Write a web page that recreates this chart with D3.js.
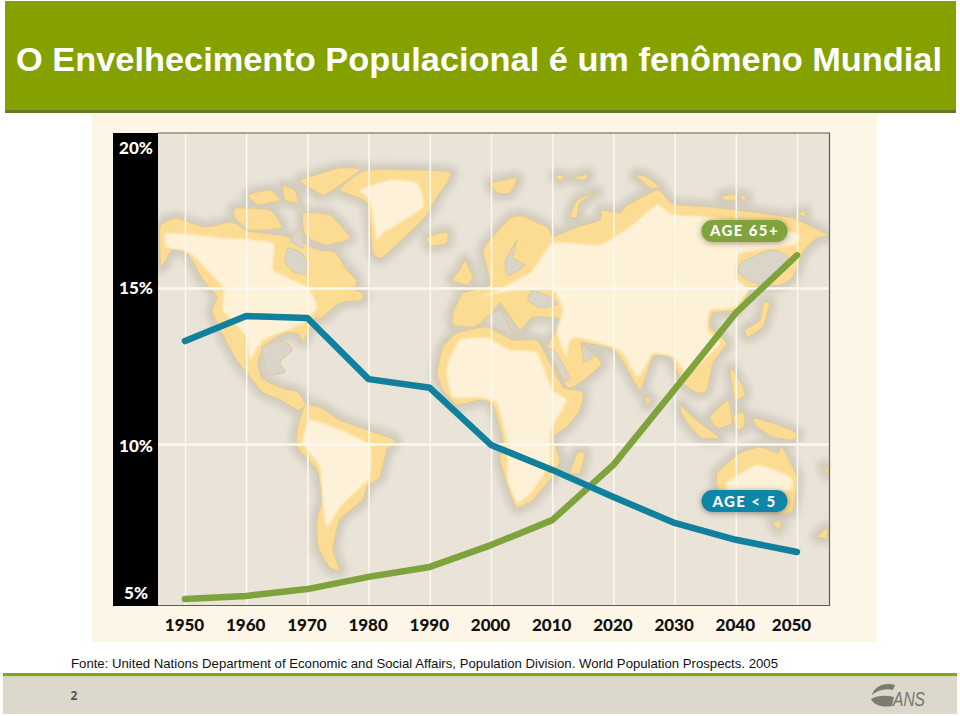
<!DOCTYPE html>
<html lang="pt">
<head>
<meta charset="utf-8">
<script src="https://cdn.jsdelivr.net/npm/d3@7"></script>
<style>
html,body{margin:0;padding:0;background:#fff}
svg{display:block}
</style>
</head>
<body>
<svg id="c" width="960" height="716"></svg>
<script>
// ---- data ----
const years = [1950,1960,1970,1980,1990,2000,2010,2020,2030,2040,2050];
const age65plus = [5.03,5.13,5.35,5.74,6.06,6.76,7.56,9.33,11.75,14.2,16.05];
const ageUnder5 = [13.3,14.1,14.04,12.08,11.8,9.97,9.17,8.3,7.47,6.93,6.54];
const percentTicks = [5,10,15,20];
const tagNames = ["AGE 65+","AGE < 5"];
const tagLevels = [16.83,8.17];
const titleText = "O Envelhecimento Populacional é um fenômeno Mundial";
const sourceText = "Fonte: United Nations Department of Economic and Social Affairs, Population Division. World Population Prospects. 2005";

// ---- decorative backdrop map (page pixels, not data) ----
const land = [
 [[160,226],[176,218],[205,227],[232,222],[248,231],[280,235],[298,240],[318,250],[335,252],[347,270],[357,280],[355,290],[363,293],[362,300],[340,303],[322,318],[315,318],[308,332],[303,342],[298,334],[285,333],[265,345],[258,362],[262,378],[282,388],[298,392],[306,405],[298,410],[280,400],[262,392],[250,377],[238,362],[228,345],[212,312],[217,297],[203,280],[187,253],[172,250],[161,267]],
 [[305,405],[322,408],[340,420],[362,428],[395,440],[387,450],[380,477],[367,487],[363,500],[340,520],[333,550],[340,570],[330,568],[318,547],[317,520],[322,500],[317,470],[297,447],[297,430]],
 [[437,373],[443,347],[457,333],[487,327],[513,340],[537,340],[547,357],[563,387],[583,392],[580,410],[567,427],[553,437],[560,460],[552,477],[533,500],[517,508],[510,493],[500,460],[503,440],[493,405],[480,400],[457,405],[443,390]],
 [[453,313],[463,293],[490,285],[483,253],[487,243],[510,218],[523,216],[548,228],[553,237],[577,227],[600,220],[602,210],[620,213],[627,205],[658,190],[673,204],[710,207],[753,212],[793,218],[828,235],[817,238],[803,252],[793,277],[780,285],[753,287],[737,310],[713,313],[710,327],[727,343],[713,363],[707,390],[697,393],[683,383],[670,357],[653,357],[640,390],[620,357],[610,348],[580,343],[602,363],[580,383],[567,387],[547,347],[563,320],[533,317],[520,330],[500,303],[490,317],[473,327],[453,325]],
 [[340,190],[367,170],[450,172],[437,197],[423,220],[383,257],[373,253],[367,203]],
 [[427,237],[447,232],[447,243],[430,246]],
 [[452,280],[460,270],[465,260],[473,277],[467,285]],
 [[300,180],[340,168],[360,170],[325,195],[310,188]],
 [[303,213],[330,215],[350,238],[325,245],[305,235]],
 [[235,208],[270,210],[282,228],[250,230],[235,218]],
 [[248,195],[270,190],[280,200],[258,205]],
 [[283,186],[295,190],[298,203],[285,200]],
 [[577,453],[585,453],[580,473],[570,473]],
 [[490,183],[517,178],[510,193],[498,193]],
 [[570,217],[577,200],[597,192],[580,203],[577,217]],
 [[555,175],[565,176],[560,181]],[[573,178],[588,174],[585,180]],
 [[635,175],[645,176],[660,187],[650,188]],
 [[722,196],[735,194],[737,200],[724,200]],[[740,195],[747,197],[744,201]],
 [[770,303],[763,327],[748,337],[745,330],[760,320],[763,303]],
 [[710,417],[728,400],[732,423],[717,428]],
 [[680,405],[700,423],[720,438],[700,437],[683,417]],
 [[733,417],[743,412],[745,425],[738,430]],
 [[730,370],[735,400],[745,395],[742,385],[733,370]],
 [[753,418],[773,423],[797,433],[793,440],[773,437],[757,427]],
 [[717,473],[740,453],[760,447],[778,453],[782,447],[797,477],[793,510],[783,514],[760,508],[720,492]],
 [[773,522],[782,522],[778,530]],
 [[817,537],[827,528],[827,538]],
 [[823,466],[829,470],[827,474]],
 [[645,396],[651,400],[647,405]],
 [[795,215],[805,211],[805,216]]
];
const seas = [
 [[288,248],[300,252],[307,262],[306,274],[294,272],[285,262]],
 [[262,347],[284,341],[292,350],[280,362],[285,372],[268,374]],
 [[742,262],[770,250],[788,256],[778,272],[762,284],[748,280],[738,272]],
 [[532,290],[548,296],[558,304],[540,308],[528,300]],
 [[505,262],[517,240],[513,258],[525,265],[508,276]],
 [[548,350],[556,352],[570,378],[564,380]],
 [[582,345],[594,355],[584,362]],
 [[300,228],[303,248],[290,240]],
 [[484,320],[500,310],[512,332],[520,338],[490,325]]
];
const inland = [
 [[167,233],[223,238],[273,243],[273,270],[307,287],[317,307],[303,323],[263,340],[250,360],[247,337],[223,310],[223,287],[190,253],[167,247]],
 [[360,190],[390,180],[417,183],[423,207],[383,233],[377,240],[370,200]],
 [[310,420],[340,430],[370,445],[370,477],[357,490],[340,507],[327,527],[323,503],[320,467],[303,443]],
 [[460,340],[487,338],[510,350],[537,353],[552,390],[567,400],[552,427],[550,437],[550,463],[533,490],[518,503],[508,480],[507,440],[497,403],[480,397],[453,397],[447,375],[448,363]],
 [[477,300],[530,273],[553,243],[600,245],[630,227],[657,205],[673,215],[707,217],[797,233],[793,245],[740,253],[735,277],[748,290],[733,308],[710,310],[707,330],[720,343],[700,363],[687,373],[673,357],[653,353],[638,377],[620,350],[580,338],[570,340],[567,357],[577,377],[563,350],[557,330],[563,310],[553,290],[520,290],[497,293]],
 [[727,483],[757,465],[790,477],[790,490],[730,495]]
];

// ---- drawing ----
const svg = d3.select("#c");
const defs = svg.append("defs");
defs.append("filter").attr("id","b5").append("feGaussianBlur").attr("stdDeviation",3);
defs.append("filter").attr("id","b1").append("feGaussianBlur").attr("stdDeviation",1.3);
defs.append("filter").attr("id","b0").append("feGaussianBlur").attr("stdDeviation",0.5);
const shadow = defs.append("filter").attr("id","pill").attr("x","-20%").attr("y","-50%").attr("width","140%").attr("height","200%");
shadow.append("feDropShadow").attr("dx",0).attr("dy",1).attr("stdDeviation",3).attr("flood-color","#5a4a30").attr("flood-opacity",.55);
defs.append("clipPath").attr("id","plot").append("rect").attr("x",158).attr("y",133).attr("width",671).attr("height",472);

// header
svg.append("rect").attr("x",5).attr("y",1).attr("width",951).attr("height",110).attr("fill","#85a100");
svg.append("rect").attr("x",5).attr("y",110).attr("width",951).attr("height",3).attr("fill","#5f7d2a");
svg.append("text").attr("x",16).attr("y",71).attr("fill","#fff")
  .attr("font-family","'Liberation Sans',Arial,sans-serif").attr("font-weight",700).attr("font-size",33.5)
  .attr("textLength",926).attr("lengthAdjust","spacingAndGlyphs").text(titleText);

// chart panel
svg.append("rect").attr("x",92).attr("y",114).attr("width",785).attr("height",528).attr("fill","#fdf6e7");
svg.append("rect").attr("x",158).attr("y",133).attr("width",671).attr("height",472).attr("fill","#e9e3d8");

const x = d3.scaleLinear().domain([1950,2050]).range([185,797]);
const y = d3.scaleLinear().domain([5,20]).range([600,132]);

// map
const path = d3.line().curve(d3.curveCardinalClosed.tension(0.55));
const map = svg.append("g").attr("clip-path","url(#plot)");
map.append("g").attr("filter","url(#b5)").selectAll("path").data(land).join("path")
  .attr("d",path).attr("fill","#d2cdbf").attr("stroke","#d2cdbf").attr("stroke-width",13).attr("stroke-linejoin","round");
map.append("g").attr("filter","url(#b0)").selectAll("path").data(land).join("path")
  .attr("d",path).attr("fill","#fcdc92").attr("stroke","#e0cb9c").attr("stroke-width",1.2).attr("stroke-linejoin","round");
map.append("g").attr("filter","url(#b0)").selectAll("path").data(seas).join("path")
  .attr("d",path).attr("fill","#d9d5c8").attr("stroke","#e0cb9c").attr("stroke-width",1.2).attr("stroke-linejoin","round");
map.append("g").attr("filter","url(#b1)").selectAll("path").data(inland).join("path")
  .attr("d",path).attr("fill","#fdf2d8");

// grid (through axes)
const gridColor = "#fbf8f0";
const hGrid = svg.append("g").attr("transform","translate(158,0)")
  .call(d3.axisRight(y).tickValues([10,15]).tickSize(671).tickFormat(""));
hGrid.select(".domain").remove();
hGrid.selectAll("line").attr("stroke",gridColor).attr("stroke-width",2.4);
const vGrid = svg.append("g").attr("transform","translate(0,605)")
  .call(d3.axisTop(x).tickValues(years).tickSize(472).tickFormat(""));
vGrid.select(".domain").remove();
vGrid.selectAll("line").attr("stroke",gridColor).attr("stroke-width",1.6);

// frame
svg.append("path").attr("d","M158,133H829.5V605.5H158").attr("fill","none").attr("stroke","#5f5f50").attr("stroke-width",1.2);
svg.append("rect").attr("x",113).attr("y",133).attr("width",45).attr("height",473).attr("fill","#000");

// y axis labels
const labelFont = "Lato,'Open Sans',sans-serif";
const yLabelShift = {5:-7,10:2,15:0,20:16};
const yAxis = svg.append("g").attr("transform","translate(155,0)")
  .call(d3.axisLeft(y).tickValues(percentTicks).tickSize(0).tickPadding(0).tickFormat(d=>d+"%"));
yAxis.select(".domain").remove();
yAxis.selectAll("text").attr("fill","#fff").attr("font-family",labelFont).attr("font-weight",900).attr("font-size",17)
  .attr("dy",".35em").attr("x",-19).attr("text-anchor","middle")
  .attr("transform",d=>`translate(0,${yLabelShift[d]})`);

// x axis labels
const xAxis = svg.append("g").attr("transform","translate(0,605)")
  .call(d3.axisBottom(x).tickValues(years).tickSize(0).tickPadding(0).tickFormat(d3.format("d")));
xAxis.select(".domain").remove();
xAxis.selectAll("text").attr("fill","#111").attr("font-family",labelFont).attr("font-weight",900).attr("font-size",17)
  .attr("y",26).attr("dy",0).attr("dx",d=>d===2050?-6:-1);

// series
const line = d3.line().x((d,i)=>x(years[i])).y(d=>y(d));
[[age65plus,"#7fa33c"],[ageUnder5,"#10809c"]].forEach(([s,c])=>{
  svg.append("path").attr("d",line(s)).attr("fill","none").attr("stroke",c)
    .attr("stroke-width",6.5).attr("stroke-linejoin","round").attr("stroke-linecap","round");
});

// series tags
const tagColors = ["#7fa33c","#0f86a8"];
const tag = svg.append("g").selectAll("g").data(tagNames).join("g")
  .attr("transform",(d,i)=>`translate(744.5,${y(tagLevels[i])})`);
tag.append("rect").attr("x",-43).attr("y",-11).attr("width",86).attr("height",22).attr("rx",11)
  .attr("fill",(d,i)=>tagColors[i]).attr("filter","url(#pill)");
tag.append("text").attr("text-anchor","middle").attr("y",5.5).attr("fill","#fdfbf2")
  .attr("font-family",labelFont).attr("font-weight",900).attr("font-size",15).attr("letter-spacing",1.4).text(d=>d);

// source + footer
svg.append("text").attr("x",71).attr("y",668).attr("fill","#111")
  .attr("font-family","'Liberation Sans',Arial,sans-serif").attr("font-size",13)
  .attr("textLength",707).attr("lengthAdjust","spacingAndGlyphs").text(sourceText);
svg.append("rect").attr("x",3).attr("y",673).attr("width",954).attr("height",3.5).attr("fill","#86a31e");
svg.append("rect").attr("x",3).attr("y",676.5).attr("width",954).attr("height",37.5).attr("fill","#dcd8cb");
svg.append("text").attr("x",74).attr("y",700).attr("text-anchor","middle").attr("fill","#555")
  .attr("font-family","'Open Sans',sans-serif").attr("font-weight",700).attr("font-size",12).text("2");
// logo
svg.append("path").attr("d","M872,695C874,687 884,682 895,685L893,690C885,688 878,690 872,695Z").attr("fill","#7b7b72");
svg.append("path").attr("d","M871,699C878,695 886,695 894,697L892,706C882,708 874,705 871,699Z").attr("fill","#7b7b72");
svg.append("text").attr("x",893).attr("y",706).attr("fill","#77776e")
  .attr("font-family","'Liberation Sans Narrow','Liberation Sans',sans-serif").attr("font-style","italic").attr("font-size",21)
  .attr("textLength",32).attr("lengthAdjust","spacingAndGlyphs").text("ANS");
</script>
</body>
</html>
